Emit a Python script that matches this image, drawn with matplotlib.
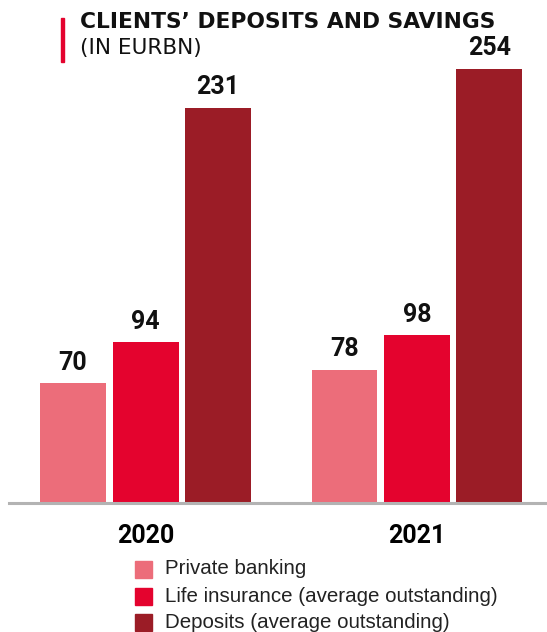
import numpy as np
import matplotlib.pyplot as plt
from matplotlib.patches import Rectangle

years = ["2020", "2021"]
series = ["Private banking", "Life insurance (average outstanding)", "Deposits (average outstanding)"]
private_banking = [70, 78]
life_insurance = [94, 98]
deposits = [231, 254]
colors = ["#EC6D7A", "#E4032E", "#9B1C26"]

W, H = 547, 632
fig = plt.figure(figsize=(W / 100, H / 100), dpi=100)

# axes placed in pixel terms: baseline at y=503, spanning x 9..547
base_px, top_px = 503, 60
ax = fig.add_axes([9 / W, (H - base_px) / H, (W - 9) / W, (base_px - top_px) / H])
ax.set_xlim(-0.503, 1.479)
ax.set_ylim(0, (base_px - top_px) / 1.71)

x = np.arange(len(years))
width = 0.243
offset = 0.267
label_font = dict(family=["Roboto", "Liberation Sans"], weight="bold", fontsize=18)
for i, vals in enumerate([private_banking, life_insurance, deposits]):
    pos = x + (i - 1) * offset
    ax.bar(pos, vals, width, color=colors[i], zorder=2)
    for px, v in zip(pos, vals):
        ax.text(px, v + 5, str(v), ha="center", va="bottom", color="#111111", **label_font)

for s in ["top", "right", "left"]:
    ax.spines[s].set_visible(False)
ax.spines["bottom"].set_color("#B3B3B3")
ax.spines["bottom"].set_linewidth(2.2)
ax.set_yticks([])
ax.set_xticks(x)
ax.set_xticklabels(years, **label_font)
ax.tick_params(axis="x", length=0, pad=15)

# title block with red marker
fig.add_artist(Rectangle((61 / W, 1 - 62 / H), 3 / W, 44 / H, color="#E4032E",
                         transform=fig.transFigure))
fig.text(80 / W, 1 - 22 / H, "CLIENTS\u2019 DEPOSITS AND SAVINGS", fontsize=15.7,
         weight="bold", family="DejaVu Sans", va="center", ha="left", color="#111111")
fig.text(80 / W, 1 - 48 / H, "(IN EURBN)", fontsize=15.6, family="DejaVu Sans",
         va="center", ha="left", color="#111111")

# legend drawn by hand
legend_y = [569, 596, 622]
for name, c, ly in zip(series, colors, legend_y):
    fig.add_artist(Rectangle((135 / W, 1 - (ly + 9) / H), 17 / W, 17 / H, color=c,
                             transform=fig.transFigure))
    fig.text(165 / W, 1 - ly / H, name, fontsize=14.8, family="Liberation Sans",
             va="center", ha="left", color="#222222")

fig.savefig("out.png", dpi=100)
